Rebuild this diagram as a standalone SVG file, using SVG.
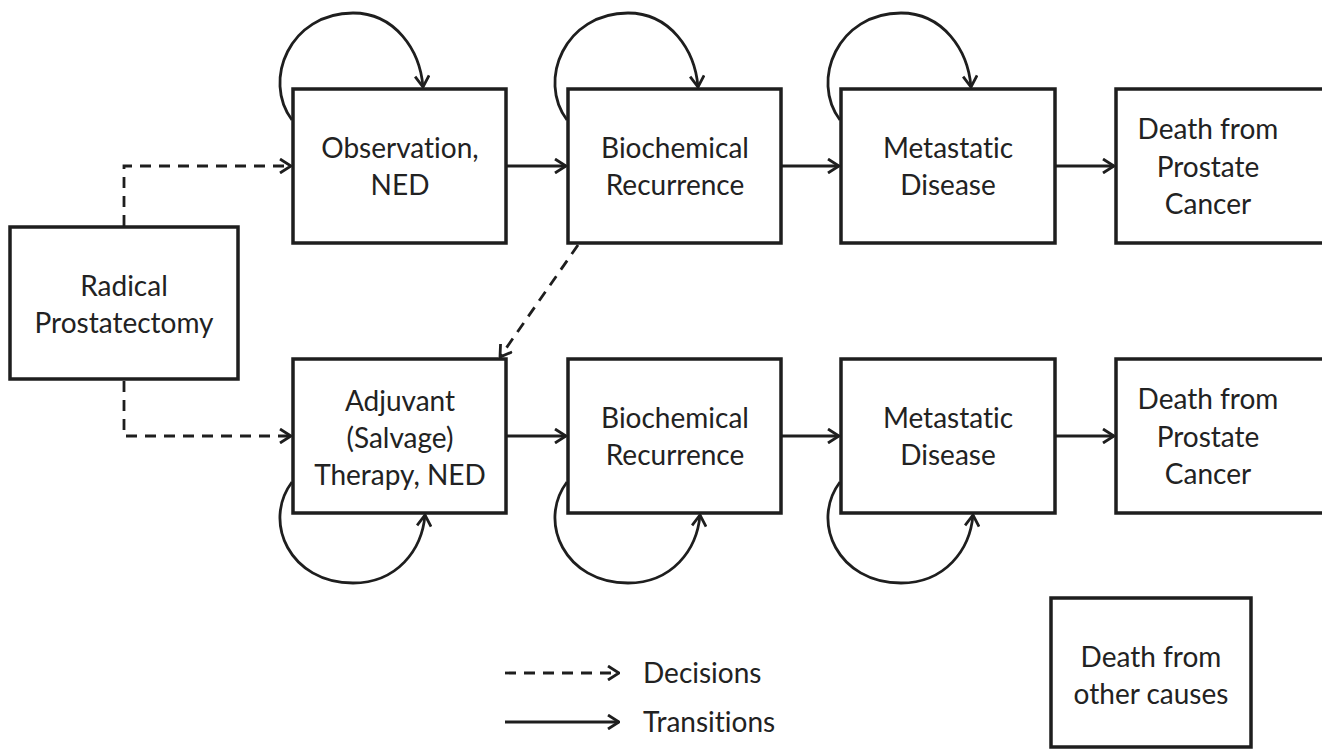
<svg xmlns="http://www.w3.org/2000/svg" width="1322" height="751" viewBox="0 0 1322 751">
<style>
.box{fill:#fff;stroke:#1e1e1e;stroke-width:3.5}
.t{font-family:Lato,"Open Sans","Liberation Sans",sans-serif;font-size:28px;fill:#222;text-anchor:middle;font-variant-ligatures:none}
.c{fill:none;stroke:#1e1e1e;stroke-width:2.8}
.d{stroke-dasharray:11,8}
.lt{font-family:Lato,"Open Sans","Liberation Sans",sans-serif;font-size:28px;fill:#222;font-variant-ligatures:none}
</style>
<defs>
<marker id="ah" viewBox="0 0 14 16" refX="13" refY="8" markerWidth="14" markerHeight="16" markerUnits="userSpaceOnUse" orient="auto">
<path d="M2,1 L13,8 L2,15" fill="none" stroke="#1e1e1e" stroke-width="2.8"/>
</marker>
</defs>
<rect width="1322" height="751" fill="#fff"/>
<g id="connectors">
<path class="c d" d="M124,226 V166 H291" marker-end="url(#ah)"/>
<path class="c d" d="M124,381 V436 H291" marker-end="url(#ah)"/>
<path class="c d" d="M578,245 L500,357" marker-end="url(#ah)"/>
<path class="c" d="M507,166 H566" marker-end="url(#ah)"/>
<path class="c" d="M782,166 H839" marker-end="url(#ah)"/>
<path class="c" d="M1056,166 H1114" marker-end="url(#ah)"/>
<path class="c" d="M507,436 H566" marker-end="url(#ah)"/>
<path class="c" d="M782,436 H839" marker-end="url(#ah)"/>
<path class="c" d="M1056,436 H1114" marker-end="url(#ah)"/>
<path class="c" d="M292,120 C262,80 290,13 353,13 C395,13 420,50 423,87" marker-end="url(#ah)"/>
<path class="c" d="M567,120 C537,80 565,13 628,13 C670,13 695,50 698,87" marker-end="url(#ah)"/>
<path class="c" d="M840,120 C810,80 838,13 901,13 C943,13 968,50 971,87" marker-end="url(#ah)"/>
<path class="c" d="M292,482 C262,522 290,583 353,583 C397,583 422,550 425,515" marker-end="url(#ah)"/>
<path class="c" d="M567,482 C537,522 565,583 628,583 C672,583 697,550 700,515" marker-end="url(#ah)"/>
<path class="c" d="M840,482 C810,522 838,583 901,583 C945,583 970,550 973,515" marker-end="url(#ah)"/>
</g>
<g id="n-radical"><rect class="box" x="10" y="227" width="228" height="152"/><text class="t" x="124" y="296">Radical</text><text class="t" x="124" y="333">Prostatectomy</text></g>
<g id="n-obs"><rect class="box" x="293" y="89" width="213" height="154"/><text class="t" x="400" y="158">Observation,</text><text class="t" x="400" y="195">NED</text></g>
<g id="n-bcr1"><rect class="box" x="568" y="89" width="213" height="154"/><text class="t" x="675" y="158">Biochemical</text><text class="t" x="675" y="195">Recurrence</text></g>
<g id="n-met1"><rect class="box" x="841" y="89" width="214" height="154"/><text class="t" x="948" y="158">Metastatic</text><text class="t" x="948" y="195">Disease</text></g>
<g id="n-dpc1"><rect class="box" x="1116" y="89" width="213" height="154"/><text class="t" x="1208" y="139">Death from</text><text class="t" x="1208" y="177">Prostate</text><text class="t" x="1208" y="214">Cancer</text></g>
<g id="n-adj"><rect class="box" x="293" y="359" width="213" height="154"/><text class="t" x="400" y="411">Adjuvant</text><text class="t" x="400" y="448">(Salvage)</text><text class="t" x="400" y="485">Therapy, NED</text></g>
<g id="n-bcr2"><rect class="box" x="568" y="359" width="213" height="154"/><text class="t" x="675" y="428">Biochemical</text><text class="t" x="675" y="465">Recurrence</text></g>
<g id="n-met2"><rect class="box" x="841" y="359" width="214" height="154"/><text class="t" x="948" y="428">Metastatic</text><text class="t" x="948" y="465">Disease</text></g>
<g id="n-dpc2"><rect class="box" x="1116" y="359" width="213" height="154"/><text class="t" x="1208" y="409">Death from</text><text class="t" x="1208" y="447">Prostate</text><text class="t" x="1208" y="484">Cancer</text></g>
<g id="n-doc"><rect class="box" x="1051" y="598" width="200" height="149"/><text class="t" x="1151" y="667">Death from</text><text class="t" x="1151" y="704">other causes</text></g>
<g id="legend">
<path class="c d" d="M505,673 H619" marker-end="url(#ah)"/>
<path class="c" d="M505,722 H619" marker-end="url(#ah)"/>
<text class="lt" x="643" y="683">Decisions</text>
<text class="lt" x="643" y="732">Transitions</text>
</g>
</svg>
